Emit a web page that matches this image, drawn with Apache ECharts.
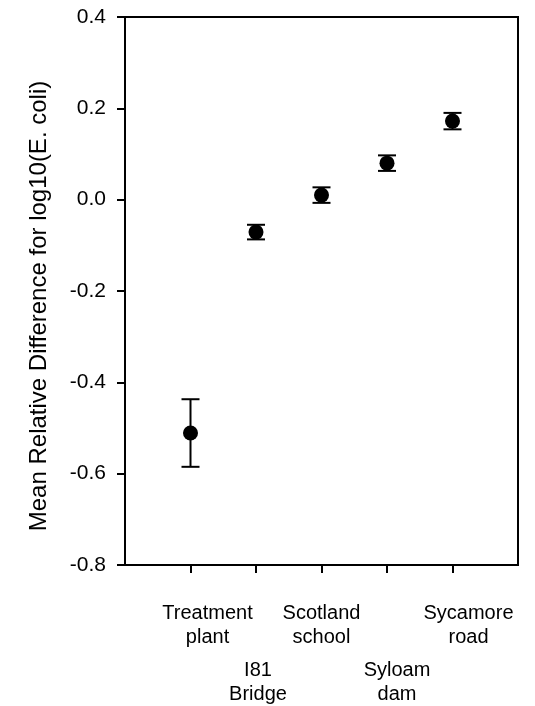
<!DOCTYPE html>
<html>
<head>
<meta charset="utf-8">
<script src="https://cdn.jsdelivr.net/npm/echarts@6/dist/echarts.min.js"></script>
<style>
  html, body { margin: 0; padding: 0; background: #fff; }
  #chart { width: 535px; height: 706px; }
</style>
</head>
<body>
<div id="chart"></div>
<script>
// sites along the stream (empty slots pad both ends of the axis)
var sites = ['', 'Treatment\nplant', 'I81\nBridge', 'Scotland\nschool', 'Syloam\ndam', 'Sycamore\nroad', ''];
var siteIdx = [1, 2, 3, 4, 5];
var meanDiff = [-0.511, -0.071, 0.010, 0.080, 0.172];
var errDiff = [0.074, 0.016, 0.017, 0.017, 0.018];
var yTicks = [-0.8, -0.6, -0.4, -0.2, 0.0, 0.2, 0.4];
var yTitle = 'Mean Relative Difference for log10(E. coli)';

// label style per site: which row and horizontal nudge
var labelRow = { 1: 'u', 2: 'd', 3: 'u', 4: 'd', 5: 'u' };
var labelNudge = { 1: 34, 2: 4, 3: 0, 4: 20, 5: 32 };

var points = [];
var bars = [];
for (var i = 0; i < siteIdx.length; i++) {
    points.push([siteIdx[i], meanDiff[i]]);
    bars.push([siteIdx[i], meanDiff[i], errDiff[i]]);
}

var font = '"Liberation Sans", Arial, sans-serif';

var rich = { sp: { lineHeight: 57, fontSize: 20 } };
Object.keys(labelNudge).forEach(function (k) {
    rich['t' + k] = {
        fontSize: 20, lineHeight: 24, color: '#000', fontFamily: font,
        padding: [0, 0, 0, labelNudge[k]]
    };
});

var option = {
    backgroundColor: '#fff',
    animation: false,
    grid: {
        left: 125, right: 17, top: 17, bottom: 140,
        show: true, borderColor: '#000', borderWidth: 2
    },
    graphic: [{
        type: 'text',
        x: 39,
        y: 306,
        rotation: Math.PI / 2,
        style: {
            text: yTitle,
            font: '24px ' + font,
            fill: '#000',
            align: 'center',
            verticalAlign: 'middle'
        }
    }],
    xAxis: {
        type: 'category',
        data: sites,
        boundaryGap: false,
        axisLine: { onZero: false, lineStyle: { color: '#000', width: 2 } },
        axisTick: {
            length: 8,
            lineStyle: { color: '#000', width: 2 },
            interval: function (index) { return index > 0 && index < sites.length - 1; }
        },
        axisLabel: {
            interval: 0,
            margin: 36,
            fontFamily: font,
            fontSize: 20,
            color: '#000',
            lineHeight: 24,
            formatter: function (val, index) {
                if (!val) return '';
                var parts = val.split('\n');
                var s = '{t' + index + '|' + parts[0] + '}\n{t' + index + '|' + parts[1] + '}';
                if (labelRow[index] === 'd') s = '{sp| }\n' + s;
                return s;
            },
            rich: rich
        },
        splitLine: { show: false }
    },
    yAxis: {
        type: 'value',
        min: yTicks[0],
        max: yTicks[yTicks.length - 1],
        interval: 0.2,
        axisLine: { show: true, lineStyle: { color: '#000', width: 2 } },
        axisTick: { show: true, length: 8, lineStyle: { color: '#000', width: 2 } },
        axisLabel: {
            margin: 19,
            fontFamily: font,
            fontSize: 21,
            color: '#000',
            formatter: function (v) { return v.toFixed(1); }
        },
        splitLine: { show: false }
    },
    series: [
        {
            type: 'custom',
            data: bars,
            z: 3,
            renderItem: function (params, api) {
                var x = api.value(0), m = api.value(1), e = api.value(2);
                var hi = api.coord([x, m + e]);
                var lo = api.coord([x, m - e]);
                var hw = 9;
                var st = { stroke: '#000', lineWidth: 2 };
                return {
                    type: 'group',
                    children: [
                        { type: 'line', shape: { x1: hi[0], y1: hi[1], x2: lo[0], y2: lo[1] }, style: st },
                        { type: 'line', shape: { x1: hi[0] - hw, y1: hi[1], x2: hi[0] + hw, y2: hi[1] }, style: st },
                        { type: 'line', shape: { x1: lo[0] - hw, y1: lo[1], x2: lo[0] + hw, y2: lo[1] }, style: st }
                    ]
                };
            }
        },
        {
            type: 'scatter',
            data: points,
            z: 4,
            symbol: 'circle',
            symbolSize: 15,
            itemStyle: { color: '#000', opacity: 1 }
        }
    ]
};

var myChart = echarts.init(document.getElementById('chart'));
myChart.setOption(option);
</script>
</body>
</html>
